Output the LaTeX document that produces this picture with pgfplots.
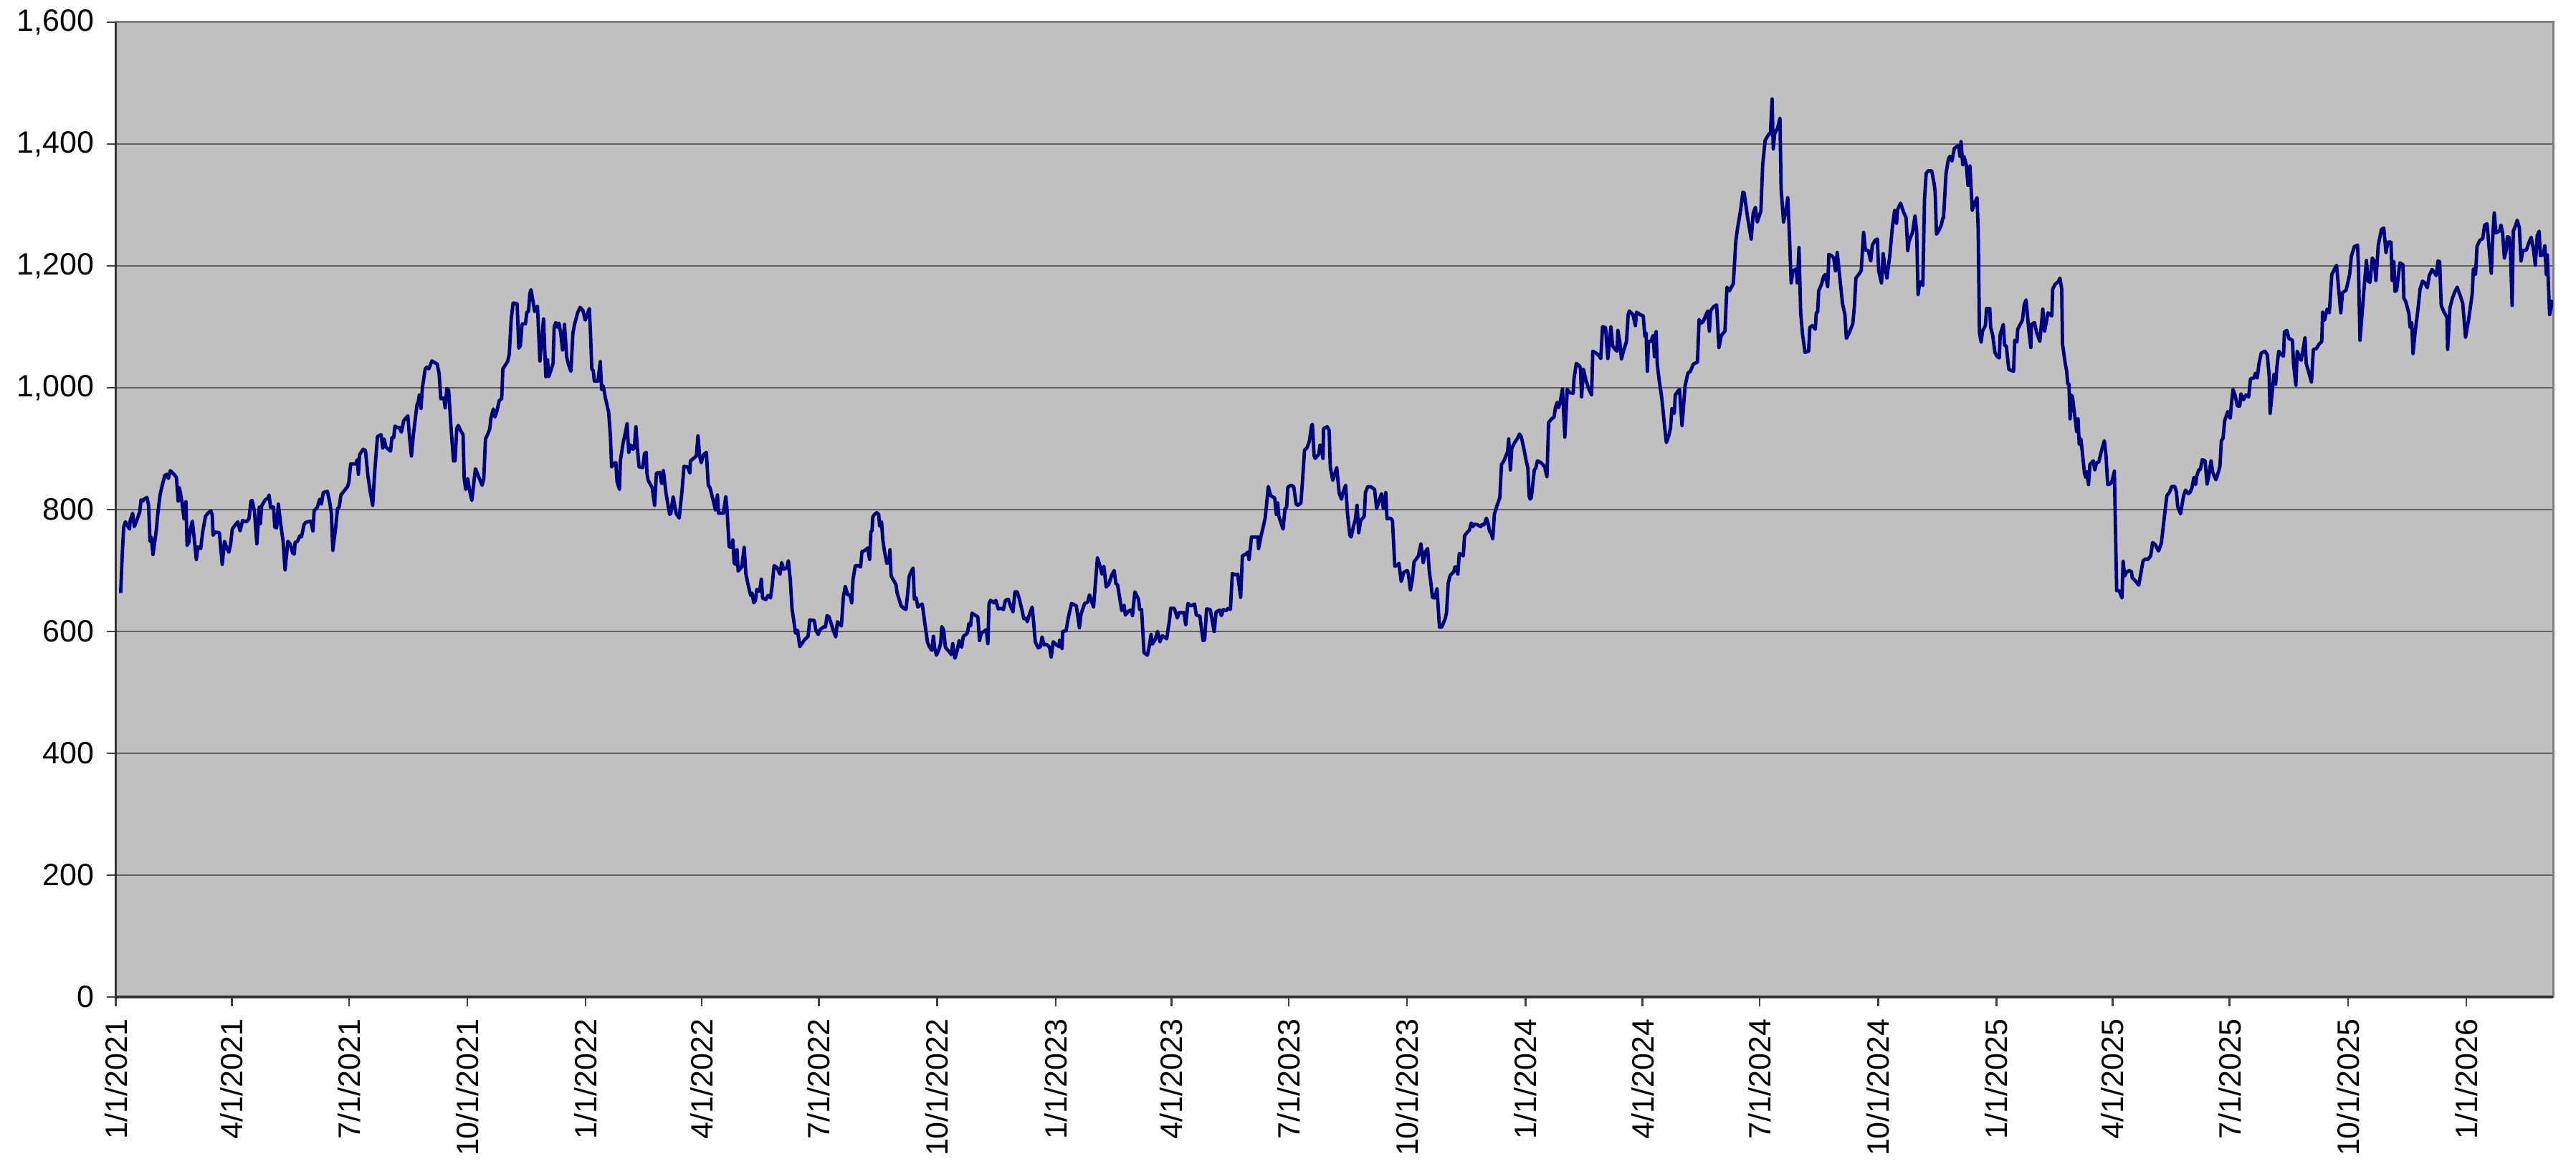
\documentclass[border=0pt]{standalone}
\usepackage{fontspec}
\setmainfont{Liberation Sans}
\usepackage{pgfplots}
\pgfplotsset{compat=1.18}
\definecolor{plotbg}{HTML}{C0C0C0}
\definecolor{navyline}{HTML}{000080}
\definecolor{gridc}{HTML}{5E5E5E}
\begin{document}
\begin{tikzpicture}
\begin{axis}[
  scale only axis,
  width=680.06pt, height=272pt,
  xmin=0, xmax=1893.3,
  ymin=0, ymax=1600,
  axis background/.style={fill=plotbg},
  axis line style={draw=black!50, line width=0.6pt},
  ytick={0,200,...,1600},
  xtick={0,90,181,273,365,455,546,638,730,820,911,1003,1095,1186,1277,1369,1461,1551,1642,1734,1826},
  xticklabels={1/1/2021,4/1/2021,7/1/2021,10/1/2021,1/1/2022,4/1/2022,7/1/2022,10/1/2022,1/1/2023,4/1/2023,7/1/2023,10/1/2023,1/1/2024,4/1/2024,7/1/2024,10/1/2024,1/1/2025,4/1/2025,7/1/2025,10/1/2025,1/1/2026},
  xtick pos=left, ytick pos=left,
  tick align=outside,
  major tick length=2.6pt,
  tick style={black!75, line width=0.5pt},
  ymajorgrids,
  grid style={gridc, line width=0.38pt},
  /pgf/number format/.cd, 1000 sep={,}, assume math mode=true,
  /pgfplots/.cd,
  yticklabel style={font=\fontsize{8.6}{10}\selectfont, anchor=east},
  xticklabel style={font=\fontsize{8.6}{10}\selectfont, rotate=90, anchor=east},
  after end axis/.code={
    \draw[black!80, line width=0.65pt] (rel axis cs:0,1) -- (rel axis cs:0,0) -- (rel axis cs:1,0);
  },
]
\addplot[color=navyline, line width=0.95pt, line join=round, mark=none] table {
x y
3.7 663
5.0 729
6.1 772
7.4 780
10.6 768
11.1 782
13.0 794
14.3 772
16.7 785
18.6 797
19.5 816
21.0 814
21.7 817
24.1 820
25.4 807
26.5 748
27.5 755
28.8 726
31.5 768
32.5 792
34.3 824
35.8 838
38.0 856
39.5 858
40.8 851
42.3 864
45.1 858
47.0 853
48.4 814
49.2 836
50.1 828
51.4 811
52.9 785
54.4 813
55.3 741
56.6 746
57.9 768
59.4 781
60.7 755
62.5 718
63.7 739
65.9 736
67.4 763
69.6 789
71.5 794
73.7 798
74.8 792
75.5 758
77.0 763
80.4 762
82.6 710
84.4 748
86.3 736
87.8 730
89.1 743
90.4 768
92.8 775
94.7 780
96.5 765
98.4 782
101.5 780
103.4 785
104.9 814
105.8 815
107.6 798
109.5 744
111.4 804
112.3 777
113.2 806
116.0 816
118.2 819
119.0 824
120.1 804
122.5 804
123.4 771
124.9 770
126.2 809
128.1 775
129.9 748
131.4 701
133.6 748
135.5 743
137.3 729
138.6 727
139.2 746
141.1 748
142.9 757
144.2 755
146.1 775
147.5 779
151.3 781
153.1 765
154.0 798
156.5 804
158.3 817
159.6 809
161.1 828
164.3 830
166.1 812
167.4 794
168.5 733
170.7 770
172.2 802
173.5 804
174.8 824
178.2 833
180.0 838
181.0 845
182.4 875
186.5 875
187.5 882
188.4 858
189.3 890
192.1 899
193.9 897
195.8 855
197.7 828
199.5 807
201.0 860
203.2 920
206.0 923
207.3 901
208.4 916
209.7 903
211.6 899
213.4 896
214.4 918
215.8 918
216.8 937
219.0 934
220.3 935
221.8 927
223.6 946
226.8 954
228.3 914
229.6 888
231.1 923
233.9 972
234.8 976
235.7 988
237.0 966
238.1 1000
240.3 1031
241.8 1034
243.1 1031
245.5 1044
247.8 1041
249.6 1039
251.1 1023
252.4 982
254.8 983
255.8 967
257.1 999
258.5 996
260.4 933
262.3 880
263.5 880
264.8 933
266.0 938
268.2 928
269.7 923
270.6 850
271.8 833
273.3 851
274.6 833
276.5 815
279.3 867
282.0 853
284.5 840
285.8 851
287.1 916
288.5 922
290.4 932
291.3 950
293.2 965
294.5 952
296.0 962
297.8 979
299.7 982
300.6 1031
301.5 1034
304.3 1043
305.6 1055
307.1 1113
308.6 1139
311.7 1138
313.0 1065
314.2 1069
315.5 1104
316.4 1105
318.2 1105
319.2 1124
320.5 1125
321.6 1155
322.5 1161
323.8 1145
325.3 1125
326.0 1128
327.5 1134
329.4 1044
330.9 1079
332.2 1113
334.0 1018
335.3 1046
336.2 1018
338.3 1031
339.6 1040
340.5 1100
341.8 1107
343.3 1099
344.2 1106
345.7 1087
347.0 1062
348.5 1104
350.2 1050
351.6 1038
353.5 1027
355.0 1089
356.3 1104
358.7 1123
360.6 1132
362.8 1127
364.6 1111
365.9 1118
367.8 1130
368.7 1089
369.7 1031
370.8 1028
371.7 1011
374.5 1011
376.3 1043
377.3 997
378.6 1003
380.4 982
382.8 960
384.1 923
385.1 870
386.9 876
388.4 877
389.3 846
391.2 833
391.9 880
394.0 909
395.8 926
397.1 941
398.4 894
399.9 906
401.8 899
402.7 901
404.0 936
405.1 901
406.4 870
409.2 869
410.7 892
412.0 894
412.5 860
413.5 848
416.6 836
418.5 807
419.9 860
422.5 861
424.0 843
425.3 864
427.4 826
430.2 792
431.1 794
432.9 821
435.2 794
437.6 786
439.8 831
441.3 871
444.1 870
445.9 860
446.3 880
448.2 883
450.9 888
452.2 921
453.4 889
454.7 877
456.5 890
458.7 894
460.2 840
461.5 836
463.9 816
465.8 799
467.3 824
468.2 794
471.9 794
473.8 821
474.7 802
476.4 739
477.9 738
479.3 750
480.3 712
481.6 710
482.5 734
483.4 699
486.2 706
488.1 738
489.4 694
490.8 680
493.1 659
494.2 663
495.5 647
496.8 651
497.9 669
500.1 666
501.4 686
502.4 655
504.8 652
506.6 659
508.5 655
509.8 675
511.3 708
513.5 705
515.9 694
517.2 713
518.7 702
521.1 704
522.4 716
523.9 685
525.2 638
528.0 597
529.5 602
531.3 575
534.5 585
537.7 592
539.1 619
542.5 618
543.8 602
545.6 595
546.9 603
550.3 608
551.2 607
552.5 626
554.0 624
556.8 605
559.2 591
560.5 616
563.6 609
565.1 656
566.6 674
568.5 660
570.3 660
571.6 647
572.6 685
574.4 708
576.3 708
578.5 706
579.6 731
581.8 733
584.1 737
585.5 718
586.5 764
587.4 765
588.0 788
589.3 792
591.1 795
592.6 792
593.3 773
594.8 780
595.8 750
597.1 731
598.9 712
600.4 713
601.3 734
602.2 691
604.7 682
606.0 677
606.9 663
608.7 651
610.0 642
611.9 638
613.8 636
615.2 665
616.2 690
618.0 699
619.3 704
620.3 653
621.7 655
623.0 640
624.5 643
626.4 645
628.2 617
630.5 582
631.9 575
633.8 569
635.1 592
636.0 573
637.5 561
639.0 568
640.7 580
641.6 608
643.1 602
644.4 574
645.9 570
647.7 566
649.0 562
650.1 580
651.8 556
653.7 570
655.1 585
657.0 574
658.3 592
660.3 595
661.6 598
662.6 613
663.9 609
665.0 630
667.2 627
669.6 624
670.9 585
672.2 597
674.3 600
676.1 603
677.4 580
678.3 646
679.5 651
682.1 647
683.5 651
685.4 637
687.6 638
689.5 636
691.0 651
693.2 653
695.0 642
696.9 632
698.4 665
700.2 665
702.1 651
704.0 634
705.3 621
706.6 622
708.0 616
709.9 629
711.8 640
712.7 621
714.2 583
716.4 573
718.2 575
719.5 591
721.0 578
722.9 579
725.3 574
726.6 558
728.1 583
730.7 578
732.7 575
733.1 586
735.0 572
735.5 600
738.1 601
740.0 624
742.4 646
746.1 642
748.5 606
749.8 629
752.6 646
754.9 648
756.3 660
759.5 640
762.5 721
764.7 706
766.0 694
767.5 707
769.3 673
771.2 677
773.4 691
775.5 700
776.8 679
778.2 676
781.4 634
783.2 643
784.2 627
787.0 634
788.8 635
789.7 626
791.6 665
794.4 653
795.3 636
796.8 636
798.7 565
801.3 561
802.7 575
804.2 595
805.1 579
807.4 587
809.2 600
811.1 583
812.9 593
816.3 588
818.5 619
819.4 638
822.2 638
824.6 622
825.9 631
829.6 631
831.1 611
832.8 646
835.2 642
838.0 645
839.3 627
842.1 625
844.5 585
845.8 586
847.3 637
850.1 636
853.2 600
854.7 632
857.5 635
858.8 626
860.3 636
862.5 634
864.0 638
865.8 636
867.3 695
869.2 693
871.4 694
873.8 656
875.1 724
877.9 727
879.2 730
880.3 718
882.2 755
885.3 755
887.2 755
887.7 736
889.6 757
890.9 768
892.8 786
893.7 804
895.2 838
897.0 823
900.2 819
901.5 792
902.6 811
903.3 790
904.8 780
906.7 768
908.2 801
909.5 804
910.4 837
913.2 840
915.0 837
916.9 809
918.2 807
920.6 811
921.9 850
923.4 898
925.2 901
927.1 912
928.9 938
929.5 940
930.8 888
931.7 884
934.5 891
935.4 906
936.4 903
937.7 884
938.2 933
941.0 936
942.5 930
943.4 870
945.3 848
948.4 869
950.3 827
952.1 817
953.1 827
955.3 840
956.8 792
958.6 758
959.6 755
961.4 773
962.7 782
964.2 807
965.5 762
967.0 782
969.8 789
970.7 828
972.6 838
975.3 837
977.8 833
979.4 802
981.3 814
983.1 826
984.6 802
986.5 828
987.4 785
990.2 786
991.7 782
993.5 707
995.8 709
996.7 712
998.5 682
1000.4 697
1003.2 700
1004.1 694
1005.6 668
1007.3 687
1008.4 714
1010.2 719
1011.9 724
1013.8 744
1015.6 713
1017.1 730
1019.0 736
1020.3 699
1021.7 677
1022.7 656
1024.5 655
1026.3 670
1028.2 607
1030.0 607
1032.8 622
1033.7 631
1035.0 679
1036.5 692
1039.3 698
1040.2 706
1041.2 706
1042.5 694
1043.6 728
1045.4 726
1046.7 724
1047.7 757
1049.9 763
1051.4 766
1052.9 778
1054.2 772
1055.1 776
1057.9 775
1060.3 772
1061.6 776
1062.9 775
1064.7 786
1065.9 778
1067.2 764
1068.1 763
1069.6 752
1070.9 793
1072.7 805
1075.1 820
1076.4 874
1078.3 880
1081.1 895
1082.0 916
1083.3 865
1084.4 901
1086.6 910
1088.5 916
1090.4 924
1091.8 919
1093.7 901
1095.6 880
1096.9 868
1097.8 823
1098.7 817
1099.6 820
1101.9 865
1103.0 868
1104.3 880
1107.1 877
1109.8 871
1111.7 854
1113.0 943
1115.4 949
1117.3 952
1118.2 967
1119.7 976
1120.6 967
1121.9 976
1123.8 998
1125.6 919
1127.5 998
1129.3 992
1132.1 991
1132.7 1014
1134.5 1040
1136.8 1036
1137.7 1033
1138.6 985
1140.1 1030
1142.0 1012
1144.2 998
1146.4 988
1147.3 1060
1149.7 1057
1151.6 1054
1153.5 1048
1154.9 1100
1157.2 1099
1159.0 1048
1161.4 1100
1162.7 1069
1164.6 1063
1166.1 1060
1166.8 1094
1168.3 1075
1169.6 1047
1171.1 1060
1173.5 1076
1174.8 1120
1175.7 1126
1178.5 1120
1180.4 1102
1181.3 1124
1184.1 1120
1186.5 1118
1187.8 1084
1188.7 1090
1189.7 1027
1190.6 1076
1192.4 1076
1194.3 1086
1195.2 1051
1196.5 1092
1197.4 1039
1198.9 1012
1200.8 985
1202.1 958
1203.2 934
1204.5 910
1206.4 922
1207.7 934
1208.8 966
1210.6 958
1211.4 988
1213.2 994
1214.7 997
1216.6 938
1217.5 961
1219.0 1003
1221.2 1024
1223.1 1027
1225.5 1039
1228.6 1042
1229.9 1112
1231.4 1106
1232.9 1108
1236.6 1126
1237.9 1093
1238.8 1126
1241.1 1133
1243.5 1136
1245.3 1066
1247.2 1086
1250.0 1093
1251.5 1165
1253.4 1159
1256.5 1171
1258.4 1240
1259.7 1261
1262.1 1291
1263.9 1321
1264.9 1320
1267.6 1279
1270.4 1244
1271.9 1286
1273.6 1296
1275.1 1272
1277.9 1290
1279.3 1366
1281.2 1406
1284.3 1417
1285.3 1417
1286.6 1474
1287.5 1392
1288.6 1417
1290.8 1426
1292.7 1442
1293.6 1327
1295.5 1272
1297.3 1290
1298.8 1312
1300.1 1249
1301.4 1172
1302.9 1192
1305.3 1195
1306.2 1172
1307.5 1230
1308.8 1123
1310.3 1087
1312.2 1058
1315.0 1060
1315.9 1099
1317.8 1102
1320.2 1096
1320.9 1123
1322.0 1124
1322.8 1159
1325.2 1171
1326.5 1182
1328.0 1186
1329.8 1166
1330.7 1219
1333.2 1216
1334.5 1213
1335.8 1192
1337.2 1222
1339.1 1183
1341.3 1138
1343.2 1120
1344.3 1081
1346.5 1090
1349.3 1105
1350.6 1135
1351.7 1180
1353.9 1186
1355.8 1192
1357.7 1255
1359.1 1226
1361.4 1225
1363.2 1208
1364.5 1234
1366.6 1242
1368.4 1244
1369.4 1192
1371.6 1172
1372.9 1220
1374.0 1201
1375.8 1180
1378.1 1218
1379.9 1261
1381.8 1291
1383.3 1270
1384.0 1292
1386.4 1303
1388.8 1288
1390.7 1279
1392.0 1225
1392.9 1240
1395.7 1255
1397.6 1282
1398.9 1258
1400.0 1153
1401.3 1174
1403.7 1168
1405.0 1309
1406.3 1352
1407.8 1356
1410.6 1356
1412.4 1336
1413.3 1321
1414.3 1252
1416.1 1258
1418.0 1267
1419.3 1279
1419.8 1279
1421.7 1351
1423.5 1375
1424.8 1380
1426.3 1372
1428.2 1393
1430.0 1396
1431.5 1398
1432.5 1380
1433.4 1404
1434.7 1366
1435.6 1380
1437.5 1366
1438.8 1332
1440.3 1364
1442.1 1291
1444.0 1303
1445.8 1312
1446.7 1261
1447.7 1090
1449.0 1075
1450.1 1093
1452.3 1102
1453.2 1130
1455.7 1130
1456.4 1099
1457.9 1087
1459.7 1058
1461.6 1051
1463.1 1049
1463.8 1087
1466.2 1104
1467.2 1070
1468.6 1068
1470.5 1030
1474.2 1027
1475.1 1078
1476.8 1075
1477.4 1096
1481.1 1111
1482.4 1136
1483.9 1144
1486.1 1093
1487.6 1066
1488.1 1104
1490.4 1107
1492.2 1090
1494.6 1076
1496.9 1129
1498.3 1093
1500.9 1123
1502.4 1120
1503.9 1118
1504.6 1162
1506.5 1170
1508.9 1174
1510.2 1180
1511.6 1162
1512.2 1072
1514.4 1039
1515.4 1028
1516.3 1006
1517.2 1006
1518.1 949
1519.1 988
1520.0 985
1520.9 968
1523.2 928
1524.3 949
1525.2 907
1526.5 916
1528.0 886
1529.3 860
1530.2 853
1531.1 862
1532.4 841
1533.5 874
1536.1 880
1537.3 865
1538.6 877
1540.4 878
1542.3 895
1544.7 913
1546.0 889
1547.3 841
1549.1 842
1550.6 846
1552.5 863
1553.4 763
1554.3 667
1556.2 667
1558.4 655
1559.3 715
1560.5 691
1561.8 697
1564.0 700
1565.8 698
1566.4 688
1569.2 682
1571.4 676
1573.3 698
1574.8 716
1576.6 719
1578.5 718
1580.7 724
1582.2 746
1584.4 742
1586.8 732
1589.0 745
1591.1 784
1593.3 823
1595.5 829
1597.0 838
1599.4 838
1600.7 829
1601.7 805
1603.9 793
1606.3 823
1607.8 832
1610.0 826
1611.5 829
1612.8 836
1614.3 853
1615.6 841
1616.5 855
1618.0 865
1619.3 866
1620.8 882
1623.0 880
1624.5 842
1625.8 855
1627.6 880
1628.9 861
1631.4 849
1633.2 861
1634.5 871
1635.6 913
1636.9 917
1638.2 946
1640.6 961
1642.5 950
1643.4 973
1644.7 997
1646.2 988
1648.1 970
1649.9 970
1650.8 990
1652.7 980
1654.6 988
1656.8 985
1658.3 1015
1661.1 1016
1662.0 1024
1663.5 1016
1664.8 1039
1666.6 1057
1669.4 1060
1671.3 1054
1672.7 1021
1673.5 958
1675.3 997
1676.5 1022
1677.8 1006
1678.7 1033
1680.2 1060
1682.4 1054
1683.9 1052
1684.6 1092
1686.5 1094
1688.0 1081
1690.8 1078
1691.7 1039
1693.5 1004
1694.5 1060
1696.3 1051
1697.6 1045
1699.1 1063
1700.6 1082
1701.5 1040
1703.7 1024
1705.6 1009
1707.1 1063
1709.3 1064
1711.7 1072
1713.6 1076
1714.3 1124
1715.8 1111
1717.7 1129
1719.5 1123
1721.4 1186
1725.1 1201
1728.4 1123
1729.7 1156
1732.5 1160
1735.3 1186
1736.6 1216
1739.0 1232
1741.4 1234
1742.1 1199
1743.3 1078
1746.4 1161
1748.3 1209
1749.6 1175
1751.1 1173
1752.9 1213
1754.4 1207
1755.7 1176
1757.5 1234
1760.0 1260
1761.8 1262
1763.5 1222
1765.0 1239
1767.4 1239
1768.3 1176
1769.6 1207
1770.5 1158
1771.8 1160
1774.3 1205
1776.7 1202
1777.4 1147
1778.9 1141
1781.3 1122
1782.2 1099
1783.5 1107
1784.5 1056
1786.3 1094
1788.2 1126
1790.0 1162
1791.9 1175
1793.7 1172
1795.6 1164
1797.1 1184
1799.3 1194
1800.8 1190
1802.6 1184
1803.9 1208
1805.2 1207
1806.4 1135
1808.6 1124
1810.8 1116
1811.4 1063
1813.2 1131
1815.1 1147
1816.9 1157
1818.8 1165
1820.7 1154
1823.1 1139
1825.3 1083
1827.7 1112
1830.5 1154
1831.4 1195
1833.1 1186
1834.2 1232
1836.4 1242
1838.7 1245
1840.1 1267
1842.0 1269
1845.3 1188
1846.6 1254
1847.6 1287
1848.9 1254
1851.6 1257
1852.8 1267
1854.1 1254
1855.5 1213
1856.8 1225
1857.8 1248
1859.1 1247
1860.2 1221
1861.5 1135
1862.4 1257
1864.3 1267
1865.4 1275
1867.1 1263
1868.4 1208
1869.8 1225
1872.6 1226
1874.5 1238
1876.3 1247
1878.2 1225
1879.5 1201
1881.0 1250
1882.5 1257
1883.4 1217
1885.6 1218
1886.9 1233
1888.0 1186
1888.8 1218
1890.6 1120
1893.0 1144
};
\end{axis}
\pgfresetboundingbox
\path[use as bounding box] ([xshift=-32.34pt,yshift=-48pt]current axis.south west) rectangle ([xshift=6.4pt,yshift=6.2pt]current axis.north east);
\end{tikzpicture}
\end{document}
